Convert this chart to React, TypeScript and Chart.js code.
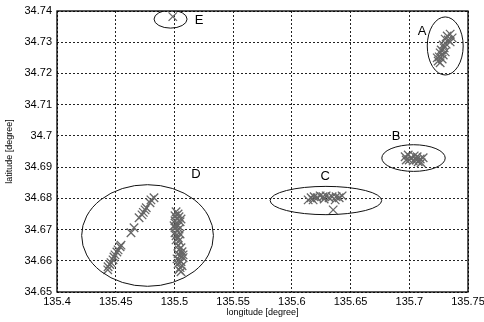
import React, { useEffect, useRef } from 'react';
import { Chart, registerables } from 'chart.js';

Chart.register(...registerables);

// Cluster A
const aLon = [135.7348, 135.7323, 135.7365, 135.7331, 135.7306, 135.7348, 135.7314, 135.7289, 135.7297, 135.7272, 135.7306, 135.7263, 135.7289, 135.7255, 135.728, 135.7246, 135.7263, 135.7238];
const aLat = [34.7326, 34.732, 34.7314, 34.7307, 34.731, 34.7301, 34.7294, 34.7291, 34.7282, 34.7275, 34.7269, 34.7266, 34.7259, 34.7253, 34.7246, 34.724, 34.7234, 34.725];
// Cluster B
const bLon = [135.6965, 135.6991, 135.7016, 135.7042, 135.7067, 135.7093, 135.7118, 135.6999, 135.7033, 135.7076, 135.7101, 135.6974, 135.7059];
const bLat = [34.6933, 34.6939, 34.693, 34.6936, 34.6933, 34.6926, 34.693, 34.6923, 34.692, 34.6917, 34.6914, 34.6923, 34.6923];
// Cluster C
const cLon = [135.6139, 135.6164, 135.619, 135.6215, 135.6241, 135.6266, 135.6292, 135.6317, 135.6343, 135.6377, 135.6403, 135.6428, 135.6181, 135.6275, 135.6369, 135.6352];
const cLat = [34.6795, 34.6802, 34.6805, 34.6802, 34.6808, 34.6805, 34.6808, 34.6802, 34.6805, 34.6805, 34.6802, 34.6808, 34.6795, 34.6798, 34.6795, 34.6763];
// Cluster D - diagonal track
const dLineLon = [135.4826, 135.48, 135.4792, 135.476, 135.475, 135.4735, 135.4724, 135.4699, 135.4656, 135.463, 135.4545, 135.4537, 135.452, 135.451, 135.4494, 135.4485, 135.4477, 135.446, 135.445, 135.4435, 135.4432];
const dLineLat = [34.6802, 34.6795, 34.6786, 34.677, 34.6763, 34.6755, 34.6747, 34.6738, 34.6706, 34.669, 34.665, 34.6645, 34.6635, 34.6628, 34.6619, 34.6612, 34.6603, 34.6594, 34.6588, 34.6581, 34.6571];
// Cluster D - upper vertical group
const dUpLon = [135.5014, 135.5031, 135.5005, 135.5039, 135.5022, 135.5005, 135.5048, 135.5014, 135.5031, 135.5005, 135.5039, 135.5022, 135.5005, 135.5048, 135.5014, 135.5031, 135.5014, 135.5039, 135.4997, 135.5056];
const dUpLat = [34.6757, 34.675, 34.6744, 34.6741, 34.6734, 34.6728, 34.6725, 34.6718, 34.6712, 34.6706, 34.6702, 34.6696, 34.669, 34.6686, 34.668, 34.6674, 34.6667, 34.6664, 34.6712, 34.6734];
// Cluster D - lower vertical group
const dLowLon = [135.5031, 135.5056, 135.5039, 135.5065, 135.5031, 135.5048, 135.5074, 135.5039, 135.5056, 135.5031, 135.5065, 135.5048, 135.5039, 135.5056, 135.5074, 135.5022];
const dLowLat = [34.6648, 34.6642, 34.6635, 34.6629, 34.6622, 34.6616, 34.661, 34.6603, 34.6597, 34.659, 34.6584, 34.6578, 34.6571, 34.6565, 34.6619, 34.6606];
// Cluster E
const eLon = [135.4986];
const eLat = [34.7382];

// Ellipses around clusters
const ellipseCx = [135.7306, 135.7036, 135.629, 135.4771, 135.4967];
const ellipseCy = [34.7288, 34.6929, 34.6793, 34.6681, 34.7374];
const ellipseRx = [0.0153, 0.027, 0.0475, 0.0561, 0.01406];
const ellipseRy = [0.0093, 0.00427, 0.00453, 0.01627, 0.00288];

// Cluster labels
const labelNames = ['A', 'B', 'C', 'D', 'E'];
const labelLon = [135.711, 135.6888, 135.6283, 135.5184, 135.521];
const labelLat = [34.7333, 34.6997, 34.6869, 34.6878, 34.7371];

const xMin = 135.4, xMax = 135.75, xStep = 0.05;
const yMin = 34.65, yMax = 34.74, yStep = 0.01;

const zip = (xs: number[], ys: number[]) => xs.map((x, i) => ({ x, y: ys[i] }));

const overlay = {
  id: 'overlay',
  afterDatasetsDraw(chart: any) {
    const { ctx, chartArea: a, scales } = chart;
    const sx = scales.x, sy = scales.y;
    ctx.save();
    ctx.beginPath();
    ctx.rect(a.left, a.top, a.right - a.left, a.bottom - a.top);
    ctx.clip();
    ctx.strokeStyle = '#111';
    ctx.lineWidth = 1;
    for (let i = 0; i < ellipseCx.length; i++) {
      const cx = sx.getPixelForValue(ellipseCx[i]);
      const cy = sy.getPixelForValue(ellipseCy[i]);
      const rx = Math.abs(sx.getPixelForValue(ellipseCx[i] + ellipseRx[i]) - cx);
      const ry = Math.abs(sy.getPixelForValue(ellipseCy[i] + ellipseRy[i]) - cy);
      ctx.beginPath();
      ctx.ellipse(cx, cy, rx, ry, 0, 0, Math.PI * 2);
      ctx.stroke();
    }
    ctx.restore();

    ctx.save();
    ctx.fillStyle = '#000';
    ctx.font = '13px "Liberation Sans", Arial, sans-serif';
    ctx.textAlign = 'center';
    ctx.textBaseline = 'middle';
    for (let i = 0; i < labelNames.length; i++) {
      ctx.fillText(labelNames[i], sx.getPixelForValue(labelLon[i]), sy.getPixelForValue(labelLat[i]));
    }
    ctx.strokeStyle = '#000';
    ctx.lineWidth = 1.3;
    ctx.strokeRect(a.left, a.top, a.right - a.left, a.bottom - a.top);
    ctx.restore();
  },
};

export default function App() {
  const ref = useRef<HTMLCanvasElement>(null);
  useEffect(() => {
    document.body.style.margin = '0';
    const canvas = ref.current!;
    const markerStyle = {
      pointStyle: 'crossRot' as const,
      pointRadius: 6,
      pointHoverRadius: 6,
      pointBorderWidth: 1.3,
      pointBorderColor: '#666666',
      borderColor: '#666666',
      backgroundColor: '#666666',
      showLine: false,
    };
    const chart = new Chart(canvas, {
      type: 'scatter',
      data: {
        datasets: [
          { label: 'A', data: zip(aLon, aLat), ...markerStyle },
          { label: 'B', data: zip(bLon, bLat), ...markerStyle },
          { label: 'C', data: zip(cLon, cLat), ...markerStyle },
          { label: 'D track', data: zip(dLineLon, dLineLat), ...markerStyle },
          { label: 'D upper', data: zip(dUpLon, dUpLat), ...markerStyle },
          { label: 'D lower', data: zip(dLowLon, dLowLat), ...markerStyle },
          { label: 'E', data: zip(eLon, eLat), ...markerStyle },
        ],
      },
      options: {
        animation: false,
        responsive: false,
        events: [],
        layout: { padding: { top: 11, right: 16, bottom: 0, left: 0 } },
        plugins: { legend: { display: false }, tooltip: { enabled: false } },
        scales: {
          x: {
            type: 'linear',
            min: xMin,
            max: xMax,
            afterFit: (s: any) => { s.height = 30; s.paddingLeft = 0; s.paddingRight = 0; },
            ticks: {
              stepSize: xStep,
              maxRotation: 0,
              padding: 3,
              color: '#000',
              font: { family: '"Liberation Sans", Arial, sans-serif', size: 11 },
              callback: (v: any) => String(Number(Number(v).toFixed(2))),
            },
            grid: { color: '#222', lineWidth: 1, drawTicks: false },
            border: { display: false, dash: [2, 2] },
            title: {
              display: true,
              text: 'longitude [degree]',
              color: '#000',
              font: { family: '"Liberation Sans", Arial, sans-serif', size: 9 },
              padding: { top: 2, bottom: 4 },
            },
          },
          y: {
            type: 'linear',
            min: yMin,
            max: yMax,
            afterFit: (s: any) => { s.width = 57; s.paddingTop = 0; s.paddingBottom = 0; },
            ticks: {
              stepSize: yStep,
              padding: 5,
              color: '#000',
              font: { family: '"Liberation Sans", Arial, sans-serif', size: 11 },
              callback: (v: any) => String(Number(Number(v).toFixed(2))),
            },
            grid: { color: '#222', lineWidth: 1, drawTicks: false },
            border: { display: false, dash: [2, 2] },
            title: {
              display: true,
              text: 'latitude [degree]',
              color: '#000',
              font: { family: '"Liberation Sans", Arial, sans-serif', size: 9 },
              padding: { top: 4, bottom: 2 },
            },
          },
        },
      },
      plugins: [overlay],
    });
    return () => chart.destroy();
  }, []);
  return (
    <div style={{ width: 484, height: 322, background: '#fff' }}>
      <canvas ref={ref} width={484} height={322} style={{ display: 'block' }} />
    </div>
  );
}
